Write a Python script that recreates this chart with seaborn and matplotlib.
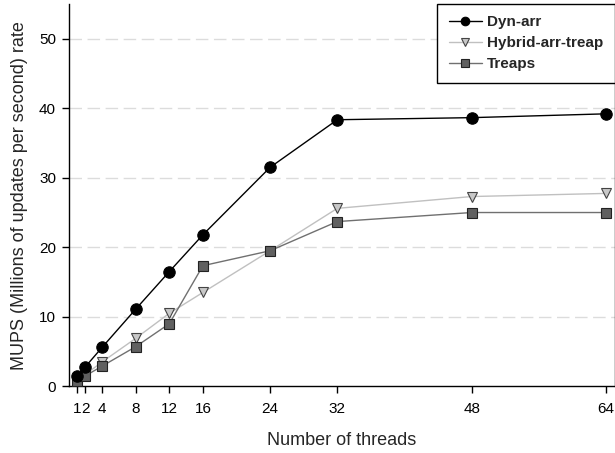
import matplotlib
matplotlib.use("Agg")
import matplotlib.pyplot as plt
import seaborn as sns
import pandas as pd

threads = [1, 2, 4, 8, 12, 16, 24, 32, 48, 64]
dyn_arr = [1.5, 2.8, 5.6, 11.1, 16.5, 21.8, 31.5, 38.35, 38.65, 39.2]
hybrid = [0.9, 1.7, 3.5, 6.9, 10.5, 13.5, 19.5, 25.6, 27.3, 27.75]
treaps = [0.7, 1.5, 2.9, 5.7, 9.0, 17.35, 19.5, 23.7, 25.0, 25.0]
series_names = ["Dyn-arr", "Hybrid-arr-treap", "Treaps"]
x_ticks = [1, 2, 4, 8, 12, 16, 24, 32, 48, 64]
y_ticks = [0, 10, 20, 30, 40, 50]

sns.set_style("white")
plt.rcParams['font.family'] = ['Liberation Sans', 'DejaVu Sans']

fig = plt.figure(figsize=(6.15, 4.53), dpi=100)
ax = fig.add_axes([68.5 / 615, 66.7 / 453, 546 / 615, 382.3 / 453])

df = pd.DataFrame({"threads": threads, "Dyn-arr": dyn_arr,
                   "Hybrid-arr-treap": hybrid, "Treaps": treaps})

styles = {
    "Dyn-arr": dict(color="black", marker="o", markerfacecolor="black",
                    markeredgecolor="black", markersize=8.2, zorder=5),
    "Hybrid-arr-treap": dict(color="#c0c0c0", marker="v", markerfacecolor="#c8c8c8",
                             markeredgecolor="#444444", markersize=7.8, zorder=3),
    "Treaps": dict(color="#707070", marker="s", markerfacecolor="#606060",
                   markeredgecolor="#222222", markersize=6.8, zorder=4),
}
for name in series_names:
    sns.lineplot(data=df, x="threads", y=name, ax=ax, label=name,
                 linewidth=1.0, markeredgewidth=0.8, **styles[name])

ax.set_xlim(0, 65)
ax.set_ylim(0, 55)
ax.set_xticks(x_ticks)
ax.set_xticklabels([str(t) for t in x_ticks])
ax.set_yticks(y_ticks)

for y in y_ticks[1:]:
    ax.axhline(y, color="#dcdcdc", linewidth=1.0, dashes=(9, 4), zorder=0)

for s in ["left", "bottom", "right"]:
    ax.spines[s].set_visible(True)
    ax.spines[s].set_color("black")
    ax.spines[s].set_linewidth(1.0)
ax.spines["top"].set_visible(False)

ax.tick_params(axis="both", direction="out", length=5, width=1, color="black",
               labelsize=11, labelcolor="black", bottom=True, left=True, pad=4)
ax.tick_params(axis="x", pad=6)

ax.set_xlabel("Number of threads", fontsize=13, labelpad=12)
ax.set_ylabel("MUPS (Millions of updates per second) rate", fontsize=13, labelpad=8)

leg = ax.legend(loc="upper right", bbox_to_anchor=(1.0, 1.0), frameon=True,
                fancybox=False, edgecolor="black", framealpha=1,
                prop={"weight": "bold", "size": 11}, handlelength=2.2,
                borderpad=0.75, labelspacing=0.45, handletextpad=0.3,
                borderaxespad=0, markerscale=0.75)
leg.get_frame().set_linewidth(1.0)

fig.savefig("out.png", dpi=100)
